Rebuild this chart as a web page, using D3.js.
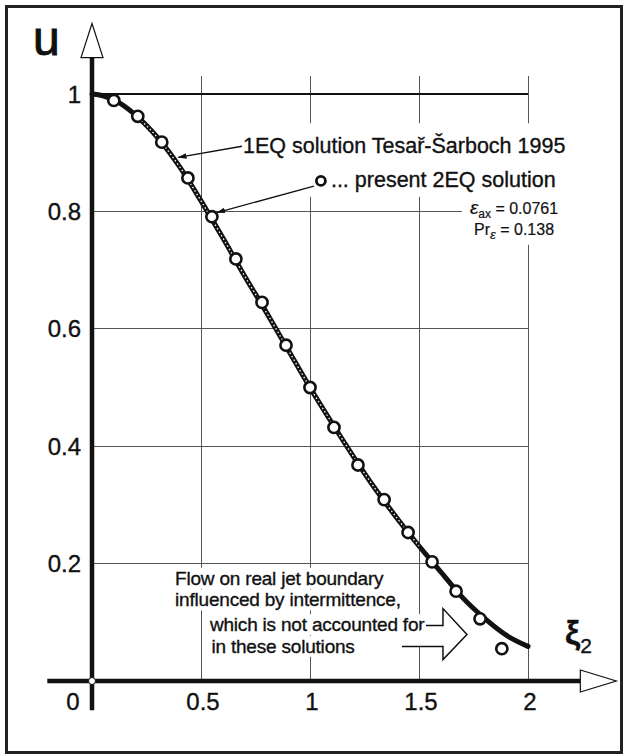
<!DOCTYPE html>
<html lang="en">
<head>
<meta charset="UTF-8">
<title>u - xi2 profile</title>
<script src="https://d3js.org/d3.v7.min.js"></script>
<style>
    body { margin: 0; background: #fff; }
    svg text { font-family: "Liberation Sans", Arial, Helvetica, sans-serif; fill: #111; stroke: #111; stroke-width: 0.35px; }
    .grid-line { stroke: #555; stroke-width: 1; shape-rendering: crispEdges; }
</style>
</head>
<body>
<script>
    // present 2EQ solution (circles)
    const xi2EQ = [0.10, 0.21, 0.32, 0.44, 0.55, 0.66, 0.78, 0.89, 1.00, 1.11, 1.22, 1.34, 1.45, 1.56, 1.67, 1.78, 1.88];
    const u2EQ = [0.989, 0.962, 0.918, 0.857, 0.791, 0.719, 0.645, 0.572, 0.500, 0.432, 0.368, 0.309, 0.253, 0.203, 0.153, 0.106, 0.055];

    // 1EQ solution Tesar-Sarboch 1995 (line)
    const xi1EQ = [0, 0.05, 0.1, 0.2, 0.3, 0.4, 0.5, 0.6, 0.7, 0.8, 0.9, 1.0, 1.1, 1.2, 1.3, 1.4, 1.5, 1.6, 1.7, 1.8, 1.9, 2.0];
    const u1EQ = [1.0, 0.997, 0.99, 0.964, 0.926, 0.877, 0.818, 0.755, 0.69, 0.628, 0.564, 0.5, 0.44, 0.382, 0.327, 0.277, 0.23, 0.186, 0.142, 0.107, 0.078, 0.059];

    const xTicks = [0.5, 1, 1.5, 2];
    const xTickLabels = ["0.5", "1", "1.5", "2"];
    const yTicks = [0.2, 0.4, 0.6, 0.8, 1];
    const yTickLabels = ["0.2", "0.4", "0.6", "0.8", "1"];

    const width = 628, height = 756;

    const svg = d3.select("body").append("svg")
        .attr("width", width)
        .attr("height", height);

    const x = d3.scaleLinear().domain([0, 2]).range([92, 528]);
    const y = d3.scaleLinear().domain([0, 1]).range([681, 94]);

    // okvir
    svg.append("rect")
        .attr("x", 6.5).attr("y", 6.5)
        .attr("width", 615).attr("height", 746)
        .attr("fill", "none")
        .attr("stroke", "#222")
        .attr("stroke-width", 3);

    // mreza
    svg.selectAll(".vgrid")
        .data(xTicks)
        .enter().append("line")
        .attr("class", "grid-line")
        .attr("x1", d => x(d)).attr("x2", d => x(d))
        .attr("y1", y(1.03)).attr("y2", y(0));

    svg.selectAll(".hgrid")
        .data(yTicks)
        .enter().append("line")
        .attr("class", "grid-line")
        .attr("x1", x(0)).attr("x2", x(2))
        .attr("y1", d => y(d)).attr("y2", d => y(d))
        .style("stroke", d => d === 1 ? "#111" : "#555")
        .style("stroke-width", d => d === 1 ? 1.5 : 1);

    // 1EQ krivulja
    const line = d3.line()
        .x(d => x(d[0]))
        .y(d => y(d[1]))
        .curve(d3.curveMonotoneX);

    const curvePts = xi1EQ.map((v, i) => [v, u1EQ[i]]);

    svg.append("path")
        .datum(curvePts)
        .attr("d", line)
        .attr("fill", "none")
        .attr("stroke", "#111")
        .attr("stroke-width", 5)
        .attr("stroke-linecap", "round");

    svg.append("path")
        .datum(curvePts.filter(d => d[0] > 0.12 && d[0] <= 1.5))
        .attr("d", line)
        .attr("fill", "none")
        .attr("stroke", "#fff")
        .attr("stroke-width", 1.3)
        .attr("stroke-dasharray", "1.5,2.5");

    // 2EQ tocke
    svg.selectAll(".pt")
        .data(xi2EQ.map((v, i) => [v, u2EQ[i]]))
        .enter().append("circle")
        .attr("class", "pt")
        .attr("cx", d => x(d[0]))
        .attr("cy", d => y(d[1]))
        .attr("r", 5.6)
        .attr("fill", "#fff")
        .attr("stroke", "#111")
        .attr("stroke-width", 2.6);

    // osi
    svg.append("line")
        .attr("x1", x(-0.205)).attr("x2", x(2.24))
        .attr("y1", y(0)).attr("y2", y(0))
        .attr("stroke", "#111").attr("stroke-width", 4.5);

    svg.append("line")
        .attr("x1", x(0)).attr("x2", x(0))
        .attr("y1", y(-0.05)).attr("y2", y(1.062))
        .attr("stroke", "#111").attr("stroke-width", 4.5);

    // strelice na osima
    svg.append("polygon")
        .attr("points", [[x(2.24), y(0) - 11], [x(2.405), y(0)], [x(2.24), y(0) + 11]].join(" "))
        .attr("fill", "#fff").attr("stroke", "#111").attr("stroke-width", 1.2);

    svg.append("polygon")
        .attr("points", [[x(0) - 11, y(1.062)], [x(0), y(1.12)], [x(0) + 11, y(1.062)]].join(" "))
        .attr("fill", "#fff").attr("stroke", "#111").attr("stroke-width", 1.2);

    svg.append("circle")
        .attr("cx", x(0)).attr("cy", y(0)).attr("r", 3.5)
        .attr("fill", "#fff").attr("stroke", "#111").attr("stroke-width", 1);

    // oznake na osima
    svg.selectAll(".xlab")
        .data(xTicks)
        .enter().append("text")
        .attr("x", d => x(d) + 2)
        .attr("y", 710)
        .attr("text-anchor", "middle")
        .style("font-size", "24px")
        .text((d, i) => xTickLabels[i]);

    svg.append("text")
        .attr("x", x(0) - 19).attr("y", 710)
        .attr("text-anchor", "middle")
        .style("font-size", "24px")
        .text("0");

    svg.selectAll(".ylab")
        .data(yTicks)
        .enter().append("text")
        .attr("x", 81)
        .attr("y", d => y(d))
        .attr("dy", "0.36em")
        .attr("text-anchor", "end")
        .style("font-size", "24px")
        .text((d, i) => yTickLabels[i]);

    // naslovi osi
    svg.append("text")
        .attr("x", 33).attr("y", 55)
        .style("font-size", "48px")
        .style("stroke-width", "1px")
        .text("u");

    const xiLab = svg.append("text")
        .attr("x", 565).attr("y", 644)
        .style("font-size", "34px")
        .style("font-weight", "bold");
    xiLab.append("tspan").text("ξ");
    xiLab.append("tspan").attr("dy", 9).style("font-size", "21px").style("font-weight", "normal").text("2");

    // bijele podloge za tekst
    function whiteBox(sel, pad) {
        const b = sel.node().getBBox();
        svg.insert("rect", ".annot")
            .attr("x", b.x - pad[0]).attr("y", b.y - pad[1])
            .attr("width", b.width + 2 * pad[0]).attr("height", b.height + 2 * pad[1])
            .attr("fill", "#fff");
    }

    // marker za pokazivace
    svg.append("defs").append("marker")
        .attr("id", "tip")
        .attr("viewBox", "0 0 10 10")
        .attr("refX", 9).attr("refY", 5)
        .attr("markerWidth", 7).attr("markerHeight", 7)
        .attr("orient", "auto")
        .append("path")
        .attr("d", "M0,2 L10,5 L0,8 Z")
        .attr("fill", "#111");

    const annot = svg.append("g").attr("class", "annot");

    // legenda gore
    const t1 = annot.append("text")
        .attr("x", x(0.693)).attr("y", y(0.9))
        .style("font-size", "21.5px")
        .text("1EQ solution Tesař-Šarboch 1995");

    const t2 = annot.append("text")
        .attr("x", x(1.096)).attr("y", y(0.841))
        .style("font-size", "21.5px")
        .text("... present 2EQ solution");

    const t3 = annot.append("text")
        .attr("x", x(1.936)).attr("y", y(0.795))
        .attr("text-anchor", "middle")
        .style("font-size", "16px")
        .style("stroke-width", "0.2px");
    t3.append("tspan").style("font-style", "italic").style("font-size", "19px").text("ε");
    t3.append("tspan").attr("dy", 4).style("font-size", "12px").text("ax");
    t3.append("tspan").attr("dy", -4).text(" = 0.0761");

    const t4 = annot.append("text")
        .attr("x", x(1.936)).attr("y", y(0.76))
        .attr("text-anchor", "middle")
        .style("font-size", "16px")
        .style("stroke-width", "0.2px");
    t4.append("tspan").text("Pr");
    t4.append("tspan").attr("dy", 4).style("font-style", "italic").style("font-size", "13px").text("ε");
    t4.append("tspan").attr("dy", -4).text(" = 0.138");

    // tekst dolje
    const noteLines = ["Flow on real jet boundary", "influenced by intermittence,", "which is not accounted for", "in these solutions"];
    const noteX = [0.381, 0.381, 0.541, 0.548];
    const noteU = [0.164, 0.127, 0.085, 0.048];
    const notes = noteLines.map((s, i) => annot.append("text")
        .attr("x", x(noteX[i])).attr("y", y(noteU[i]))
        .style("font-size", "19px")
        .style("letter-spacing", "-0.2px")
        .text(s));

    // bijele podloge
    const topBox = { x: x(0.66), y: y(0.95), w: x(2.2) - x(0.66), h: y(0.825) - y(0.95) };
    svg.insert("rect", ".annot")
        .attr("x", topBox.x).attr("y", topBox.y)
        .attr("width", topBox.w).attr("height", topBox.h)
        .attr("fill", "#fff");
    whiteBox(t3, [8, 3]);
    whiteBox(t4, [8, 3]);
    notes.forEach(n => whiteBox(n, [3, 0]));

    // pokazivaci
    annot.append("line")
        .attr("x1", x(0.688)).attr("y1", y(0.911))
        .attr("x2", x(0.396)).attr("y2", y(0.892))
        .attr("stroke", "#111").attr("stroke-width", 1.3)
        .attr("marker-end", "url(#tip)");

    annot.append("line")
        .attr("x1", x(1.018)).attr("y1", y(0.843))
        .attr("x2", x(0.573)).attr("y2", y(0.798))
        .attr("stroke", "#111").attr("stroke-width", 1.3)
        .attr("marker-end", "url(#tip)");

    annot.append("circle")
        .attr("cx", x(1.05)).attr("cy", y(0.852)).attr("r", 4.5)
        .attr("fill", "#fff").attr("stroke", "#111").attr("stroke-width", 2.8);

    // velika strelica
    const ax = x(1.61), ay = y(0.074);
    annot.append("path")
        .attr("d", `M${ax - 17},${ay - 12} L${ax},${ay - 12} L${ax},${ay - 29} L${ax + 24},${ay - 3} L${ax},${ay + 22} L${ax},${ay + 9} L${ax - 41},${ay + 9}`)
        .attr("fill", "#fff")
        .attr("stroke", "#111")
        .attr("stroke-width", 1.5);
</script>
</body>
</html>
